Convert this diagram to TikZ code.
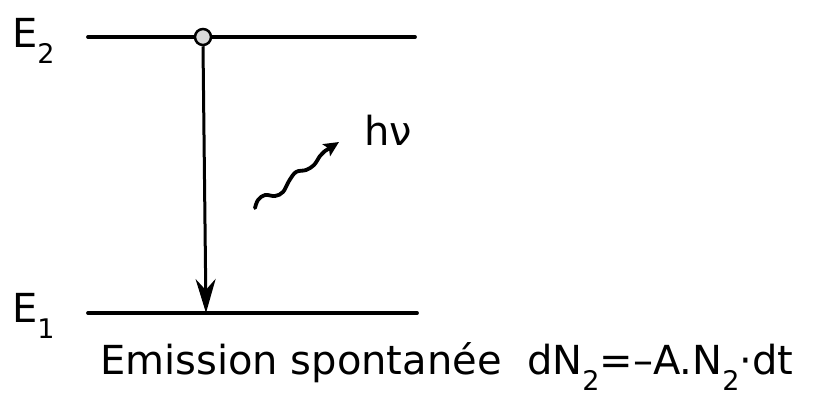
\documentclass[tikz,border=0pt]{standalone}
\usepackage{fontspec}
\setmainfont{DejaVu Sans}
\usetikzlibrary{arrows.meta}
\newcommand\lowsub[1]{\raisebox{-0.42em}{\fontsize{27}{30}\selectfont #1}}
\begin{document}
\begin{tikzpicture}[x=1pt,y=-1pt,
  level/.style={line width=3.8pt,line cap=round},
  lbl/.style={inner sep=0pt,font=\fontsize{40}{44}\selectfont},
  trans/.style={line width=3pt,-{Stealth[length=34pt,width=20pt,inset=11pt]}},
  photon/.style={line width=3.8pt,line cap=round,-{Stealth[length=15pt,width=14pt,inset=3pt]}}]
\useasboundingbox (0,0) rectangle (826,397);
\coordinate (u1) at (88,37);
\coordinate (u2) at (415,37);
\coordinate (l1) at (88,313);
\coordinate (l2) at (417,313);
\draw[level] (u1) -- (u2);
\draw[level] (l1) -- (l2);
\node[circle,draw,line width=2.5pt,fill=gray!30,minimum size=16pt,inner sep=0pt] (atom) at (203,37) {};
\coordinate (hit) at (206,313);
\draw[trans] (atom.south) -- (hit);
\node[lbl,anchor=base west] (E2) at (12,47) {E\lowsub{2}};
\node[lbl,anchor=base west] (E1) at (12,322) {E\lowsub{1}};
\coordinate (w1) at (255,208);
\coordinate (w2) at (339,142);
\draw[photon] plot[smooth,tension=0.6] coordinates {(w1) (258,200) (265,195) (275,196) (283,192) (289,181) (296,172) (306,170) (314,165) (320,156) (325,151)} -- (w2);
\node[lbl,anchor=base west] (hv) at (364,145) {hν};
\node[lbl,anchor=base west] (cap) at (100,374) {Emission spontanée\ \ dN\lowsub{2}=–A.N\lowsub{2}·dt};
\end{tikzpicture}
\end{document}
